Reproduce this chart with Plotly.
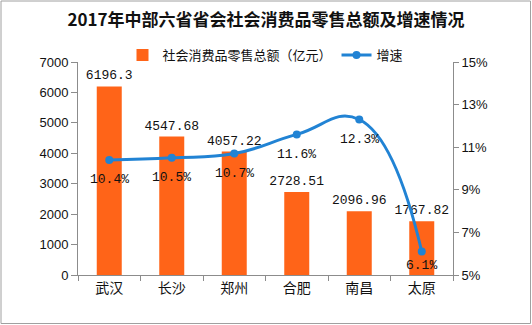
import plotly.graph_objects as go

cities = ["武汉", "长沙", "郑州", "合肥", "南昌", "太原"]
retail_sales = [6196.3, 4547.68, 4057.22, 2728.51, 2096.96, 1767.82]
growth_pct = [10.4, 10.5, 10.7, 11.6, 12.3, 6.1]
left_ticks = [0, 1000, 2000, 3000, 4000, 5000, 6000, 7000]
right_ticks = [5, 7, 9, 11, 13, 15]

W, H = 532, 325
L, R, T, B = 78, 79, 62, 50
pw, ph = W - L - R, H - T - B
y2_min, y2_max = 5, 15

bar_color = "#FF6418"
line_color = "#2183D4"
axis_color = "#8C8C8C"
cjk = "Noto Sans CJK SC"
mono = "Liberation Mono"

fig = go.Figure()
fig.add_trace(go.Bar(
    x=cities, y=retail_sales, name="社会消费品零售总额（亿元）",
    marker=dict(color=bar_color, line=dict(width=0)), width=0.4,
    text=[f"{v:g}" for v in retail_sales], textposition="outside",
    constraintext="none",
    textfont=dict(family=mono, size=13, color="#111"), cliponaxis=False,
))
fig.add_trace(go.Scatter(
    x=cities, y=growth_pct, name="增速", yaxis="y2", mode="lines+markers",
    line=dict(color=line_color, width=3, shape="spline", smoothing=1.3),
    marker=dict(color=line_color, size=8), cliponaxis=False,
))

# growth labels sit below each point, kept inside the plot area
for c, v in zip(cities, growth_pct):
    px_above_axis = ph * (v - y2_min) / (y2_max - y2_min)
    shift = -min(20, px_above_axis - 10)
    fig.add_annotation(x=c, y=v, xref="x", yref="y2", text=f"{v:.1f}%",
                       showarrow=False, yshift=shift,
                       font=dict(family=mono, size=13, color="#111"))

fig.update_layout(
    width=W, height=H, margin=dict(l=L, r=R, t=T, b=B),
    paper_bgcolor="white", plot_bgcolor="white",
    font=dict(family=cjk, size=13, color="#111"),
    title=dict(text="<b>2017年中部六省省会社会消费品零售总额及增速情况</b>",
               x=0.5, xanchor="center", y=1 - 20 / H, yanchor="middle",
               font=dict(family=cjk, size=17, color="#111")),
    showlegend=True,
    legend=dict(orientation="h", x=0.5, xanchor="center", y=1 + 7 / ph, yanchor="middle",
                font=dict(family=cjk, size=13, color="#111"), bgcolor="rgba(0,0,0,0)",
                itemwidth=30, traceorder="normal"),
    bargap=0.6,
    xaxis=dict(showline=True, linecolor=axis_color, linewidth=1, ticks="outside",
               tickson="boundaries", ticklen=5, tickcolor=axis_color,
               tickfont=dict(family=cjk, size=14, color="#111"), showgrid=False),
    yaxis=dict(range=[0, 7000], tickvals=left_ticks, showline=True, linecolor=axis_color,
               ticks="outside", ticklen=6, tickcolor=axis_color, showgrid=False,
               zeroline=False, tickfont=dict(family="Liberation Sans", size=13, color="#111")),
    yaxis2=dict(range=[y2_min, y2_max], tickvals=right_ticks,
                ticktext=[f"{v}%" for v in right_ticks],
                overlaying="y", side="right", showline=True, linecolor=axis_color,
                ticks="outside", ticklen=5, tickcolor=axis_color, showgrid=False,
                zeroline=False, tickfont=dict(family="Liberation Sans", size=13, color="#111")),
)

# thin frame around the whole chart
fig.add_shape(type="rect", xref="paper", yref="paper",
              x0=-(L - 1) / pw, x1=1 + (R - 1.5) / pw,
              y0=-(B - 1.5) / ph, y1=1 + (T - 1) / ph,
              line=dict(color="#A0A0A0", width=1), fillcolor="rgba(0,0,0,0)", layer="below")

fig.write_html("out.html")
